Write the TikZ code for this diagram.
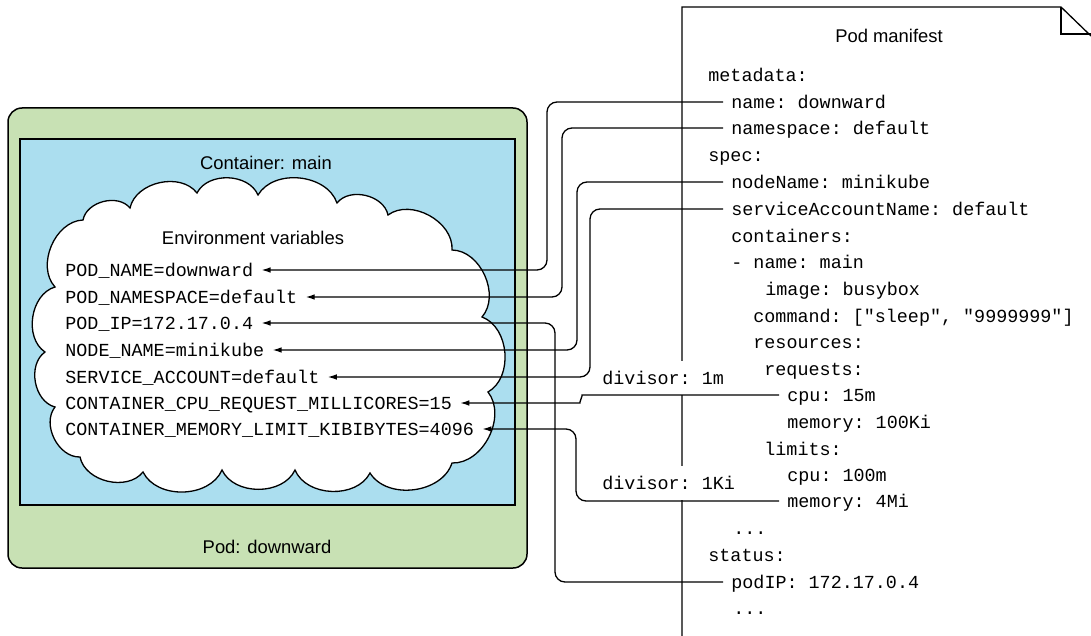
\documentclass[tikz,border=0pt]{standalone}
\usepackage{fontspec}
\setmainfont{Liberation Sans}
\setmonofont{Liberation Mono}
\usetikzlibrary{arrows.meta}
\definecolor{podgreen}{RGB}{200,225,180}
\definecolor{ctrblue}{RGB}{171,222,239}
\tikzset{
  caption/.style={font=\fontsize{9.2}{11}\selectfont, inner sep=0pt},
  code/.style={font=\fontsize{9.2}{11}\selectfont\ttfamily, anchor=west, inner sep=0pt, inner xsep=4pt, text height=1.5ex, text depth=.25ex},
  link/.style={line width=0.65pt, rounded corners=5pt, -{Latex[length=4.5pt,width=2.8pt]}},
  puff/.style={bend left=65},
}
\begin{document}
\begin{tikzpicture}[x=0.5pt,y=-0.5pt]
  \useasboundingbox (0,0) rectangle (1091,636);
  % pod, container and cloud
  \draw[line width=0.75pt, fill=podgreen, rounded corners=7pt] (8,108) rectangle (527,568);
  \draw[line width=0.75pt, fill=ctrblue] (20,139) rectangle (515,505);
  \node[caption] (ctrtitle) at (266,163) {Container: main};
  \node[caption] (podtitle) at (267,547) {Pod: downward};
  \draw[line width=0.65pt, fill=white] (55,287) to[puff] (83,220) to[puff] (130,208)
    to[puff] (197,193) to[puff] (258,195) to[puff] (337,203) to[puff] (388,215)
    to[puff] (452,250) to[puff] (482,317) to[puff] (488,392) to[puff] (452,463)
    to[puff] (370,473) to[puff] (295,470) to[puff] (222,470) to[puff] (143,472)
    to[puff] (80,457) to[puff] (55,407) to[puff] (45,352) to[puff] (55,287) -- cycle;
  \node[caption] (envtitle) at (253,238) {Environment variables};
  % environment variables
  \node[code] (podname) at (57,270) {POD\_NAME=downward};
  \node[code] (podns) at (57,297) {POD\_NAMESPACE=default};
  \node[code] (podip) at (57,323) {POD\_IP=172.17.0.4};
  \node[code] (nodename) at (57,350) {NODE\_NAME=minikube};
  \node[code] (svcacct) at (57,377) {SERVICE\_ACCOUNT=default};
  \node[code] (cpureq) at (57,403) {CONTAINER\_CPU\_REQUEST\_MILLICORES=15};
  \node[code] (memlim) at (57,429) {CONTAINER\_MEMORY\_LIMIT\_KIBIBYTES=4096};
  % manifest sheet
  \draw[line width=0.65pt] (682,636) -- (682,7) -- (1061,7) -- (1091,36);
  \draw[line width=0.65pt] (1061,7) -- (1061,34) -- (1091,34);
  \node[caption] (mantitle) at (889,36) {Pod manifest};
  \node[code] (mmeta) at (700,75) {metadata:};
  \node[code] (mname) at (723,102) {name: downward};
  \node[code] (mns) at (723,128) {namespace: default};
  \node[code] (mspec) at (700,155) {spec:};
  \node[code] (mnode) at (723,182) {nodeName: minikube};
  \node[code] (msa) at (723,209) {serviceAccountName: default};
  \node[code] (mctrs) at (723,236) {containers:};
  \node[code] (mctrname) at (723,262) {- name: main};
  \node[code] (mimage) at (757,289) {image: busybox};
  \node[code] (mcmd) at (745,316) {command: ["sleep", "9999999"]};
  \node[code] (mres) at (745,342) {resources:};
  \node[code] (mreq) at (756,369) {requests:};
  \node[code] (mcpu) at (779,395) {cpu: 15m};
  \node[code] (mreqmem) at (779,422) {memory: 100Ki};
  \node[code] (mlim) at (756,449) {limits:};
  \node[code] (mlimcpu) at (779,475) {cpu: 100m};
  \node[code] (mlimmem) at (779,501) {memory: 4Mi};
  \node[code] (mdots) at (725,528) {...};
  \node[code] (mstatus) at (700,555) {status:};
  \node[code] (mpodip) at (723,582) {podIP: 172.17.0.4};
  \node[code] (mdotsb) at (725,608) {...};
  % divisors
  \node[code, fill=white, inner ysep=4pt] (cpudiv) at (594,378) {divisor: 1m};
  \node[code, fill=white, inner ysep=4pt] (memdiv) at (594,483) {divisor: 1Ki};
  % connectors
  \draw[link] (mname.west) -- (547,0 |- mname.west) |- (podname.east);
  \draw[link] (mns.west) -- (562,0 |- mns.west) |- (podns.east);
  \draw[link] (mnode.west) -- (577,0 |- mnode.west) |- (nodename.east);
  \draw[link] (msa.west) -- (590,0 |- msa.west) |- (svcacct.east);
  \draw[link] (mpodip.west) -- (555,0 |- mpodip.west) |- (podip.east);
  \draw[link] (mcpu.west) -- (592,0 |- mcpu.west) to[out=180,in=0] (570,0 |- cpureq.east) -- (cpureq.east);
  \draw[link] (mlimmem.west) -- (576,0 |- mlimmem.west) |- (memlim.east);
\end{tikzpicture}
\end{document}
